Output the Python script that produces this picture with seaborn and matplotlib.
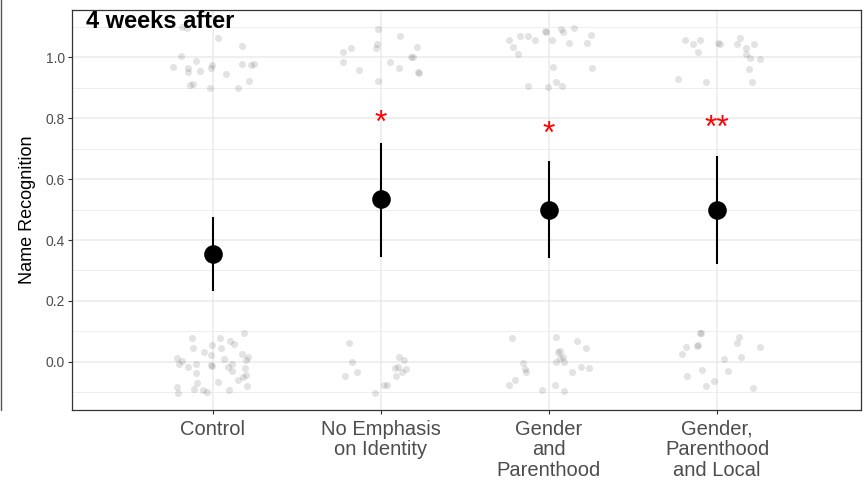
import numpy as np
import pandas as pd
import matplotlib
matplotlib.use("Agg")
import matplotlib.pyplot as plt
import seaborn as sns
from matplotlib.lines import Line2D

# ---------------- data ----------------
categories = ["Control", "No Emphasis\non Identity", "Gender\nand\nParenthood",
              "Gender,\nParenthood\nand Local"]
means = [0.355, 0.533, 0.500, 0.500]
ci_low = [0.234, 0.344, 0.342, 0.322]
ci_high = [0.476, 0.719, 0.658, 0.676]
stars = ["*", "*", "*", "**"]
star_y = [None, 0.797, 0.762, 0.783]

# jittered raw responses: horizontal jitter offset and jittered response value
control_dx = [-0.186, -0.153, 0.032, 0.171, -0.189, -0.101, -0.240, -0.147, -0.149, -0.076,
              -0.004, -0.012, 0.174, 0.228, 0.244, 0.079, -0.117, -0.137, -0.018, 0.151, 0.213,
              -0.123, 0.040, 0.183, -0.121, -0.006, 0.101, 0.127, 0.049, -0.054, -0.012,
              -0.216, -0.183, -0.202, -0.101, -0.151, -0.010, -0.006, 0.067, 0.115, 0.088,
              0.111, 0.174, 0.208, 0.195, 0.192, -0.101, 0.196, 0.179, 0.149, 0.028,
              -0.095, -0.213, -0.115, -0.058, -0.034, -0.207, 0.093, 0.204]
control_y = [1.098, 1.095, 1.062, 1.037, 1.005, 0.987, 0.967, 0.963, 0.950, 0.954,
             0.974, 0.963, 0.979, 0.975, 0.977, 0.946, 0.912, 0.909, 0.900, 0.900, 0.921,
             0.077, 0.079, 0.095, 0.047, 0.057, 0.067, 0.058, 0.044, 0.032, 0.022,
             0.013, 0.003, -0.007, -0.008, -0.017, -0.011, -0.014, 0.009, -0.006, -0.017,
             -0.031, 0.025, 0.017, 0.007, -0.019, -0.038, -0.044, -0.049, -0.058, -0.065,
             -0.071, -0.083, -0.089, -0.093, -0.098, -0.102, -0.092, -0.080]

noemph_dx = [-0.228, -0.179, -0.228, -0.133, -0.016, 0.115, -0.024, -0.028, 0.216, 0.055,
             0.180, 0.189, 0.105, 0.218, 0.226, -0.020,
             -0.189, -0.170, -0.145, -0.213, -0.038, 0.016, 0.036, 0.109, 0.135, 0.103,
             0.085, 0.149, 0.123, 0.088]
noemph_y = [1.017, 1.031, 0.984, 0.958, 1.094, 1.071, 1.044, 1.029, 1.033, 0.985,
            1.000, 1.001, 0.966, 0.953, 0.948, 0.921,
            0.062, 0.001, -0.033, -0.047, -0.102, -0.076, -0.076, 0.016, 0.006, -0.016,
            -0.019, -0.025, -0.033, -0.048]

genpar_dx = [-0.236, -0.213, -0.185, -0.174, -0.123, -0.085, -0.022, -0.020, 0.020, 0.073,
             0.085, 0.147, 0.119, 0.228, 0.248, 0.024, 0.256, -0.127, -0.004, 0.042, 0.077,
             -0.220, -0.157, -0.141, -0.139, -0.202, -0.240, -0.042, 0.042, 0.052, 0.067,
             0.065, 0.085, 0.088, 0.042, 0.168, 0.222, 0.137, 0.192, 0.240, 0.034, 0.091]
genpar_y = [1.057, 1.032, 1.010, 1.071, 1.070, 1.058, 1.085, 1.082, 1.058, 1.093,
            1.083, 1.096, 1.048, 1.047, 1.072, 0.969, 0.964, 0.907, 0.901, 0.920, 0.907,
            0.078, -0.004, -0.025, -0.032, -0.058, -0.076, -0.091, 0.081, 0.034, 0.035,
            0.013, 0.016, 0.001, -0.002, 0.067, 0.044, -0.034, -0.016, -0.021, -0.077, -0.096]

gpl_dx = [-0.234, -0.192, -0.145, -0.111, -0.099, -0.065, 0.008, 0.020, 0.119, 0.139,
          0.173, 0.223, 0.173, 0.195, 0.255, 0.190, 0.206,
          -0.101, -0.093, -0.117, -0.111, -0.185, -0.210, -0.091, -0.179, -0.065, -0.018,
          0.042, 0.067, 0.119, 0.133, 0.145, 0.258, 0.213]
gpl_y = [0.928, 1.055, 1.044, 1.017, 1.058, 0.918, 1.048, 1.045, 1.044, 1.062,
         1.029, 1.043, 1.010, 0.999, 0.993, 0.961, 0.918,
         0.095, 0.095, 0.053, 0.054, 0.048, 0.026, -0.026, -0.046, -0.080, -0.062,
         0.011, -0.031, 0.062, 0.080, 0.016, 0.049, -0.085]

y_ticks = [0.0, 0.2, 0.4, 0.6, 0.8, 1.0]
y_tick_labels = ["0.0", "0.2", "0.4", "0.6", "0.8", "1.0"]
y_minor = [-0.1, 0.1, 0.3, 0.5, 0.7, 0.9, 1.1]
title = "4 weeks after"
y_label = "Name Recognition"

# ---------------- build tables ----------------
groups = [(control_dx, control_y), (noemph_dx, noemph_y),
          (genpar_dx, genpar_y), (gpl_dx, gpl_y)]
raw = pd.concat([pd.DataFrame({"pos": i + np.array(dx), "resp": y})
                 for i, (dx, y) in enumerate(groups)], ignore_index=True)
summ = pd.DataFrame({"pos": np.arange(len(categories)), "mean": means,
                     "lo": ci_low, "hi": ci_high})

# ---------------- plot ----------------
sns.set_theme(style="white")
plt.rcParams["font.family"] = ["Liberation Sans", "DejaVu Sans"]

fig = plt.figure(figsize=(8.65, 4.83), dpi=100)
ax = fig.add_axes([72 / 865, 1 - 410 / 483, (861 - 72) / 865, 400 / 483])

grid_c = "#ebebeb"
for v in y_minor:
    ax.axhline(v, color=grid_c, lw=0.6, zorder=0)
for v in y_ticks:
    ax.axhline(v, color=grid_c, lw=1.1, zorder=0)
for i in range(len(categories)):
    ax.axvline(i, color=grid_c, lw=1.1, zorder=0)

sns.scatterplot(data=raw, x="pos", y="resp", ax=ax, color="black", alpha=0.11,
                s=26, linewidth=0, zorder=2, legend=False)
ax.vlines(summ["pos"], summ["lo"], summ["hi"], color="black", lw=1.5, zorder=3)
sns.scatterplot(data=summ, x="pos", y="mean", ax=ax, color="black", s=180,
                linewidth=0, zorder=4, legend=False)

for i, (s, yy) in enumerate(zip(stars, star_y)):
    if yy is None:
        continue
    ax.annotate(s, (i, yy), xytext=(0, -9.5), textcoords="offset points",
                ha="center", va="baseline", color="red", fontsize=23)

ax.set_xlim(-0.839, 3.857)
ax.set_ylim(-0.158, 1.155)
ax.set_xticks(range(len(categories)))
ax.set_xticklabels(categories, fontsize=14.5, color="#4d4d4d", linespacing=1.1)
ax.set_yticks(y_ticks)
ax.set_yticklabels(y_tick_labels, fontsize=10, color="#4d4d4d")
ax.tick_params(axis="x", length=3, width=0.8, color="#333333", pad=4, bottom=True)
ax.tick_params(axis="y", length=3, width=0.8, color="#333333", pad=2, left=True)
ax.set_xlabel("")
ax.set_ylabel(y_label, fontsize=13, color="black", labelpad=7)
for sp in ax.spines.values():
    sp.set_color("#333333")
    sp.set_linewidth(0.9)

ax.text(0.018, 1.0, title, transform=ax.transAxes, fontsize=17,
        fontweight="bold", ha="left", va="top", color="black",
        bbox=dict(facecolor="none", edgecolor="none", pad=0))

fig.add_artist(Line2D([0.8 / 865, 0.8 / 865], [1.0, 1 - 410 / 483],
                      transform=fig.transFigure, color="#555555", lw=1.0))

fig.savefig("out.png", dpi=100)
